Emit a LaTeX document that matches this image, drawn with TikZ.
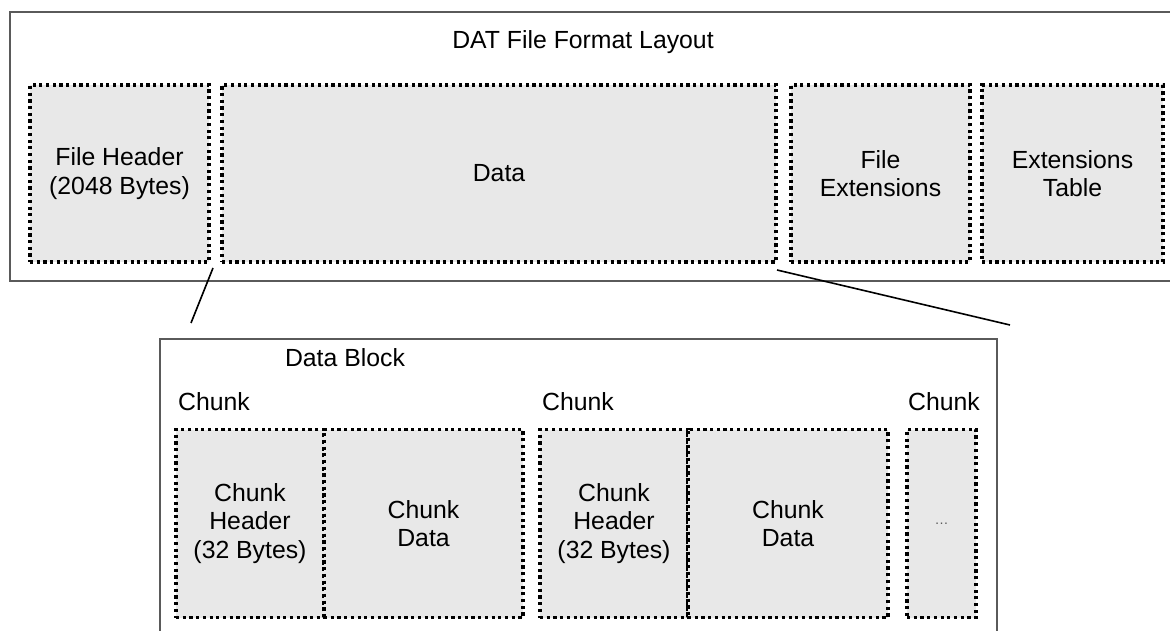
\documentclass[tikz,border=0pt]{standalone}
\usepackage{fontspec}
\setmainfont{Liberation Sans}
\usepackage{xcolor}
\usepackage{tikz}
\usetikzlibrary{positioning}

\definecolor{boxgray}{HTML}{E8E8E8}
\definecolor{framegray}{HTML}{5A5A5A}

\tikzset{
	dotbox/.style={draw=black, fill=boxgray, line width=3.2pt, dash pattern=on 3.2pt off 3.5pt,
		inner sep=0pt, outer sep=0pt, align=center, minimum height=177pt},
	chunkbox/.style={dotbox, minimum height=188pt},
	frame/.style={draw=framegray, line width=2pt},
	lbl/.style={inner sep=0pt, anchor=base west},
	zoomline/.style={draw=black, line width=1.6pt}
}

\begin{document}
\begin{tikzpicture}[x=1pt, y=-1pt, font=\fontsize{24.8}{28.5}\selectfont]
	\useasboundingbox[fill=white] (0,0) rectangle (1170,631);

	% file layout
	\draw[frame] (10,12) rectangle (1185,281);
	\node[inner sep=0pt] (title) at (583,42) {DAT File Format Layout};
	\node[dotbox, minimum width=179pt] (fhead) at (119.5,173.5) {File Header\\(2048 Bytes)};
	\node[dotbox, minimum width=554pt] (data) at (499,173.5) {Data};
	\node[dotbox, minimum width=179pt] (fext) at (880.5,173.5) {File\\Extensions};
	\node[dotbox, minimum width=181pt] (etab) at (1072.5,173.5) {Extensions\\Table};

	% data block
	\draw[frame] (160,339) rectangle (997,650);
	\node[inner sep=0pt] (dblock) at (345,358) {Data Block};
	\node[chunkbox, minimum width=148pt] (hdrA) at (250,523.5) {Chunk\\Header\\(32 Bytes)};
	\node[chunkbox, minimum width=199pt, right=0pt of hdrA] (datA) {Chunk\\Data};
	\node[chunkbox, minimum width=148pt] (hdrB) at (614,523.5) {Chunk\\Header\\(32 Bytes)};
	\node[chunkbox, minimum width=200pt, right=0pt of hdrB] (datB) {Chunk\\Data};
	\node[chunkbox, minimum width=69pt] (more) at (941.5,523.5) {\fontsize{14}{16}\selectfont\textcolor{framegray}{\dots}};
	\node[lbl, above=19pt of hdrA.north west, anchor=base west, xshift=2pt] (chA) {Chunk};
	\node[lbl, above=19pt of hdrB.north west, anchor=base west, xshift=2pt] (chB) {Chunk};
	\node[lbl, above=19pt of more.north west, anchor=base west, xshift=1pt] (chC) {Chunk};

	% zoom lines
	\coordinate (zA) at (213,268);
	\coordinate (zB) at (191,323);
	\coordinate (zC) at (777,270);
	\coordinate (zD) at (1010,325);
	\draw[zoomline] (zA) -- (zB);
	\draw[zoomline] (zC) -- (zD);
\end{tikzpicture}
\end{document}
